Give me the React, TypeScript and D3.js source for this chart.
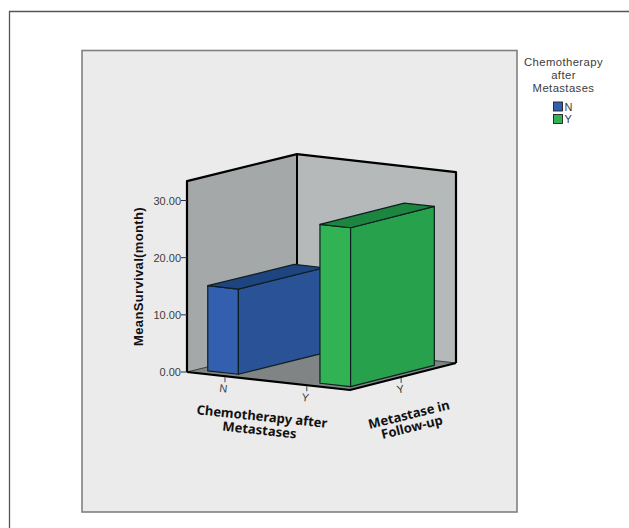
import React from "react";
import * as d3 from "d3";

// Mean survival by chemotherapy status, in a 3D cluster layout
const chemoCategories = ["N", "Y"];
const metastaseCategories = ["Y"];
const meanSurvival = [14.9, 27.8];
const valueTicks = [0, 10, 20, 30];
const valueTop = 33.4;
const seriesNames = ["N", "Y"];
const legendTitle = ["Chemotherapy", "after", "Metastases"];
const xTitle = ["Chemotherapy after", "Metastases"];
const zTitle = ["Metastase in", "Follow-up"];
const yTitle = "MeanSurvival(month)";

const frontColors = ["#3360ae", "#31b354"];
const sideColors = ["#2a5296", "#27a14c"];
const topColors = ["#1f4580", "#1c8640"];

// Floor corners of the chart box, as screen points
const cornerLeft: [number, number] = [187, 372];
const cornerFront: [number, number] = [350, 390];
const cornerRight: [number, number] = [456, 363];
const cornerBack: [number, number] = [297, 345];

const heightScale = d3.scaleLinear().domain([0, 30]).range([0, 171.5]);
const uBand = d3.scaleBand<string>().domain(chemoCategories).range([0.012, 1.002]).paddingInner(0.727).paddingOuter(0.081);
const vBand = d3.scaleBand<string>().domain(metastaseCategories).range([0, 0.965]).paddingInner(0).paddingOuter(0.112);
const uTick = d3.scalePoint<string>().domain(chemoCategories).range([0.233, 0.735]);

// Bilinear floor mapping, lifted vertically by the value
function project(u: number, v: number, value = 0): [number, number] {
  const mix = (i: 0 | 1) =>
    (1 - u) * (1 - v) * cornerLeft[i] +
    u * (1 - v) * cornerFront[i] +
    u * v * cornerRight[i] +
    (1 - u) * v * cornerBack[i];
  return [mix(0), mix(1) - heightScale(value)];
}

const path = d3.line();
const poly = (pts: [number, number][]) => path(pts) + "Z";
const labelGrey = "#3c3c3c";

export default function App() {
  const L0 = project(0, 0), F0 = project(1, 0), R0 = project(1, 1), B0 = project(0, 1);
  const L1 = project(0, 0, valueTop), R1 = project(1, 1, valueTop), B1 = project(0, 1, valueTop);
  const vStart = vBand("Y")!;
  const vEnd = vStart + vBand.bandwidth();
  const vMid = vStart + vBand.bandwidth() / 2;

  return (
    <svg width={629} height={528} style={{ position: "absolute", left: 0, top: 0, display: "block" }}>
      <rect width={629} height={528} fill="#ffffff" />
      <path d="M9.5 528V11.5H629" fill="none" stroke="#555" strokeWidth={1.3} />
      <rect x={82} y={50.5} width={435} height={461.5} fill="#ebebeb" stroke="#808080" strokeWidth={1.6} />

      {/* Box walls and floor */}
      <path d={poly([L0, L1, B1, B0])} fill="#a5a8a8" />
      <path d={poly([B0, B1, R1, R0])} fill="#b5b9ba" />
      <path d={poly([L0, F0, R0, B0])} fill="#808484" />
      <path d={path([L0, B0, R0])!} fill="none" stroke="#222" strokeWidth={0.8} />
      <path d={path([B1, B0])!} fill="none" stroke="#000" strokeWidth={2} />
      <path d={path([L0, L1, B1, R1, R0])!} fill="none" stroke="#000" strokeWidth={2.2} strokeLinejoin="round" />

      {/* Bars, back to front */}
      {chemoCategories.map((c, i) => {
        const u0 = uBand(c)!;
        const u1 = u0 + uBand.bandwidth();
        const val = meanSurvival[i];
        const a0 = project(u0, vStart), b0 = project(u1, vStart), c0 = project(u1, vEnd);
        const a1 = project(u0, vStart, val), b1 = project(u1, vStart, val), c1 = project(u1, vEnd, val), d1 = project(u0, vEnd, val);
        const edge = { stroke: "#0d1f22", strokeWidth: 1.2, strokeLinejoin: "round" as const };
        return (
          <g key={c}>
            <path d={poly([a0, a1, b1, b0])} fill={frontColors[i]} {...edge} />
            <path d={poly([b0, b1, c1, c0])} fill={sideColors[i]} {...edge} />
            <path d={poly([a1, d1, c1, b1])} fill={topColors[i]} {...edge} />
          </g>
        );
      })}

      {/* Front floor edges drawn above the bars */}
      <path d={path([L0, F0, R0])!} fill="none" stroke="#000" strokeWidth={2.2} strokeLinejoin="round" />

      {/* Value axis */}
      {valueTicks.map((t) => {
        const [x, y] = project(0, 0, t);
        return (
          <g key={t}>
            <line x1={x - 6} x2={x} y1={y} y2={y} stroke="#333" strokeWidth={1} />
            <text x={x - 6} y={y + 4} textAnchor="end" fontFamily="Liberation Sans" fontSize={11} fill={labelGrey}>
              {d3.format(".2f")(t)}
            </text>
          </g>
        );
      })}
      <text transform="translate(143,276.5) rotate(-90)" textAnchor="middle" fontFamily="Liberation Sans" fontWeight="bold" fontSize={13} letterSpacing={0.35} fill="#111">
        {yTitle}
      </text>

      {/* Category axes */}
      {chemoCategories.map((c) => {
        const [x, y] = project(uTick(c)!, 0);
        return (
          <g key={c}>
            <line x1={x} x2={x} y1={y + 1} y2={y + 6} stroke="#444" strokeWidth={1} />
            <text transform={`translate(${x - 2},${y + 16}) rotate(7)`} textAnchor="middle" fontFamily="Liberation Sans" fontSize={11} fill={labelGrey}>
              {c}
            </text>
          </g>
        );
      })}
      {metastaseCategories.map((c) => {
        const [x, y] = project(1, vMid);
        return (
          <g key={c}>
            <line x1={x} x2={x} y1={y + 1} y2={y + 6} stroke="#444" strokeWidth={1} />
            <text transform={`translate(${x},${y + 16}) rotate(-10)`} textAnchor="middle" fontFamily="Liberation Sans" fontSize={11} fill={labelGrey}>
              {c}
            </text>
          </g>
        );
      })}

      {/* Axis titles follow the slant of their floor edges */}
      {xTitle.map((line, i) => (
        <text key={line} transform={`translate(${261.5 - i * 2.5},${421 + i * 13.5}) rotate(6)`} textAnchor="middle" fontFamily="Noto Sans" fontWeight="bold" fontSize={13} fill="#111">
          {line}
        </text>
      ))}
      {zTitle.map((line, i) => (
        <text key={line} transform={`translate(${410 + i * 3},${419 + i * 12.5}) rotate(-14)`} textAnchor="middle" fontFamily="Noto Sans" fontWeight="bold" fontSize={13} fill="#111">
          {line}
        </text>
      ))}

      {/* Legend */}
      {legendTitle.map((line, i) => (
        <text key={line} x={563.5} y={66.4 + i * 13} textAnchor="middle" fontFamily="Liberation Sans" fontSize={11.3} letterSpacing={0.4} fill={labelGrey}>
          {line}
        </text>
      ))}
      {seriesNames.map((name, i) => (
        <g key={name}>
          <rect x={553.5} y={102 + i * 12.5} width={9} height={9} fill={frontColors[i]} stroke="#222" strokeWidth={0.9} />
          <text x={564.5} y={110.5 + i * 12.5} fontFamily="Liberation Sans" fontSize={11} fill={labelGrey}>
            {name}
          </text>
        </g>
      ))}
    </svg>
  );
}
